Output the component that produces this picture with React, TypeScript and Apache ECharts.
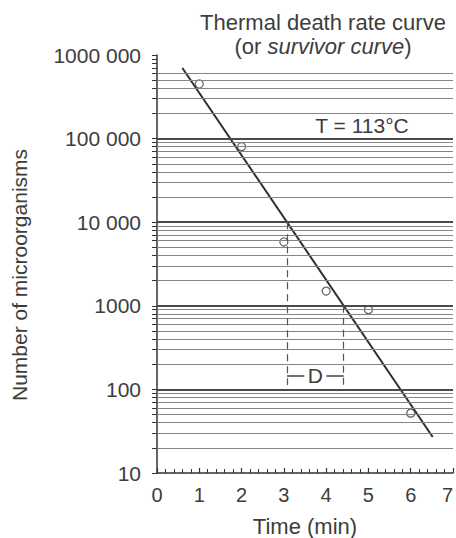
import React, { useEffect, useRef } from "react";
import * as echarts from "echarts";

// Survivor counts measured at 113 °C
const times = [1, 2, 3, 4, 5, 6];
const survivors = [450000, 80000, 5800, 1500, 900, 52];

// Fitted straight line (log scale) through the counts
const fitLine: [number, number][] = [
  [0.6, 700000],
  [6.52, 27],
];

// Axis ticks
const xTickValues = [0, 1, 2, 3, 4, 5, 6, 7];
const yTickValues = [10, 100, 1000, 10000, 100000, 1000000];
const yTickLabels = ["10", "100", "1000", "10 000", "100 000", "1000 000"];

// Log-paper rulings
const decades = [10, 100, 1000, 10000, 100000];
const multipliers = [2, 3, 4, 5, 6, 7, 8, 9];
const majorRulings = [100, 1000, 10000, 100000];
const rulingTop = 600000;

// D-value construction: one log reduction, 10 000 -> 1000
const dFrom = 10000;
const dTo = 1000;
const dBracketLevel = 145;
const dDashFloor = 113;

const FONT = "'Liberation Sans', Arial, Helvetica, sans-serif";
const INK = "#3d3d3d";

function timeAtCount(count: number): number {
  const [[x0, y0], [x1, y1]] = fitLine;
  const l0 = Math.log10(y0);
  const l1 = Math.log10(y1);
  return x0 + ((l0 - Math.log10(count)) / (l0 - l1)) * (x1 - x0);
}

export default function App() {
  const ref = useRef<HTMLDivElement>(null);

  useEffect(() => {
    if (!ref.current) return;
    const chart = echarts.init(ref.current, undefined, { renderer: "svg" });

    const minorValues: number[] = [];
    decades.forEach((d) => multipliers.forEach((m) => minorValues.push(d * m)));
    const tickValues = [...yTickValues, ...minorValues].sort((a, b) => a - b);
    const minorRulings = minorValues.filter((v) => v <= rulingTop);

    const tA = timeAtCount(dFrom);
    const tB = timeAtCount(dTo);

    chart.setOption({
      animation: false,
      backgroundColor: "#ffffff",
      textStyle: { fontFamily: FONT },
      title: {
        left: 318,
        top: 5,
        textAlign: "center",
        text: "{a|Thermal death rate curve}\n{a|(or }{i|survivor curve}{a|)}",
        textStyle: {
          fontWeight: "normal",
          rich: {
            a: { fontSize: 22, color: INK, fontFamily: FONT, fontWeight: "normal", lineHeight: 24 },
            i: {
              fontSize: 22,
              color: INK,
              fontFamily: FONT,
              fontWeight: "normal",
              fontStyle: "italic",
              lineHeight: 24,
            },
          },
        },
      },
      grid: {
        left: 157,
        right: 3,
        top: 55,
        bottom: 65,
        containLabel: false,
        outerBoundsMode: "none",
      },
      xAxis: {
        type: "value",
        min: 0,
        max: 7,
        interval: 1,
        name: "Time (min)",
        nameLocation: "middle",
        nameGap: 42,
        nameTextStyle: { fontSize: 22, color: INK, fontFamily: FONT, fontWeight: "normal" },
        axisLine: { show: true, lineStyle: { color: "#333", width: 1.5 } },
        axisTick: { show: true, inside: true, length: 5, lineStyle: { color: "#333", width: 1.2 } },
        minorTick: { show: true, splitNumber: 5, length: 4, lineStyle: { color: "#333", width: 1 } },
        splitLine: { show: false },
        axisLabel: {
          fontSize: 20,
          fontWeight: "normal",
          color: INK,
          margin: 12,
          showMaxLabel: true,
          alignMaxLabel: "right",
          customValues: xTickValues,
        },
      },
      yAxis: {
        type: "log",
        logBase: 10,
        min: 10,
        max: 1000000,
        axisLine: { show: true, lineStyle: { color: "#333", width: 1.5 } },
        axisTick: {
          show: true,
          inside: false,
          length: 5,
          customValues: tickValues,
          lineStyle: { color: "#333", width: 1 },
        },
        splitLine: { show: false },
        axisLabel: {
          fontSize: 21,
          fontWeight: "normal",
          color: INK,
          margin: 16,
          customValues: yTickValues,
          formatter: (v: number) => {
            const i = yTickValues.findIndex((t) => Math.abs(Math.log10(t) - Math.log10(v)) < 1e-6);
            return i >= 0 ? yTickLabels[i] : "";
          },
        },
      },
      graphic: [
        {
          type: "text",
          x: 19,
          y: 275,
          rotation: Math.PI / 2,
          style: {
            text: "Number of microorganisms",
            font: `21px ${FONT}`,
            fill: INK,
            align: "center",
            verticalAlign: "middle",
          },
        },
        {
          type: "text",
          x: 362,
          y: 125,
          style: {
            text: "T = 113°C",
            font: `21px ${FONT}`,
            fill: INK,
            align: "center",
            verticalAlign: "middle",
          },
        },
      ],
      series: [
        {
          name: "rulings",
          type: "line",
          data: [],
          silent: true,
          markLine: {
            silent: true,
            symbol: "none",
            label: { show: false },
            animation: false,
            data: [
              ...minorRulings.map((v) => ({
                yAxis: v,
                lineStyle: { color: "#858585", width: 1, type: "solid" },
              })),
              ...majorRulings.map((v) => ({
                yAxis: v,
                lineStyle: { color: "#4a4a4a", width: 2, type: "solid" },
              })),
            ],
          },
        },
        {
          name: "fit",
          type: "line",
          data: fitLine,
          showSymbol: false,
          symbol: "none",
          lineStyle: { color: "#2e2e2e", width: 2 },
          z: 3,
          markLine: {
            silent: true,
            symbol: "none",
            label: { show: false },
            data: [
              [
                { coord: [tA, dFrom], lineStyle: { color: "#555", width: 1.2, type: [7, 5] } },
                { coord: [tA, dDashFloor] },
              ],
              [
                { coord: [tB, dTo], lineStyle: { color: "#555", width: 1.2, type: [7, 5] } },
                { coord: [tB, dDashFloor] },
              ],
              [
                { coord: [tA, dBracketLevel], lineStyle: { color: "#444", width: 1.5, type: "solid" } },
                { coord: [tB, dBracketLevel] },
              ],
            ],
          },
          markPoint: {
            silent: true,
            symbol: "rect",
            symbolSize: [22, 20],
            itemStyle: { color: "#ffffff" },
            label: {
              show: true,
              position: "inside",
              formatter: "D",
              fontSize: 21,
              fontWeight: "normal",
              color: INK,
              fontFamily: FONT,
            },
            data: [{ coord: [(tA + tB) / 2, dBracketLevel] }],
          },
        },
        {
          name: "survivors",
          type: "scatter",
          data: times.map((t, i) => [t, survivors[i]]),
          symbol: "circle",
          symbolSize: 8,
          itemStyle: { color: "#ffffff", borderColor: "#444", borderWidth: 1.3 },
          z: 4,
        },
      ],
    });

    return () => chart.dispose();
  }, []);

  return (
    <div
      ref={ref}
      style={{ position: "absolute", left: 0, top: 0, width: 456, height: 538 }}
    />
  );
}
